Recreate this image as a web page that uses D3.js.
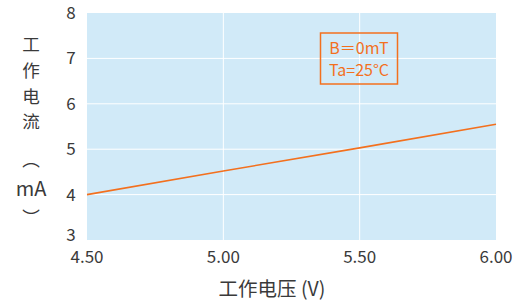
<!DOCTYPE html>
<html>
<head>
<meta charset="utf-8">
<script src="https://cdn.jsdelivr.net/npm/d3@7"></script>
<style>
  body { margin: 0; background: #fff; }
  text { font-family: "Noto Sans CJK SC", "Noto Sans", sans-serif; fill: #3a3a3a; }
</style>
</head>
<body>
<div id="chart"></div>
<script>
// data
var voltage = [4.5, 5.0, 5.5, 6.0];
var current = [4.0, 4.52, 5.03, 5.55];
var xTicks = [4.5, 5.0, 5.5, 6.0];
var yTicks = [3, 4, 5, 6, 7, 8];
var yLabelChars = ["工", "作", "电", "流", "︵", "mA", "︶"];
var legendLines = ["B＝0mT", "Ta=25°C"];

var width = 526, height = 301;
var margin = {top: 13, right: 30, bottom: 61, left: 87};

var svg = d3.select("#chart").append("svg")
    .attr("width", width)
    .attr("height", height);

var x = d3.scaleLinear().domain([4.5, 6.0]).range([margin.left, width - margin.right]);
var y = d3.scaleLinear().domain([3, 8]).range([height - margin.bottom, margin.top]);

// plot background
svg.append("rect")
    .attr("x", x(4.5)).attr("y", y(8))
    .attr("width", x(6.0) - x(4.5))
    .attr("height", y(3) - y(8))
    .attr("fill", "#d1eaf8");

// grid
svg.selectAll(".hgrid").data(yTicks.slice(1, -1)).enter().append("line")
    .attr("x1", x(4.5)).attr("x2", x(6.0))
    .attr("y1", function(d) { return y(d); })
    .attr("y2", function(d) { return y(d); })
    .attr("stroke", "#fff").attr("stroke-width", 1);

svg.selectAll(".vgrid").data(xTicks.slice(1, -1)).enter().append("line")
    .attr("y1", y(8)).attr("y2", y(3))
    .attr("x1", function(d) { return x(d); })
    .attr("x2", function(d) { return x(d); })
    .attr("stroke", "#fff").attr("stroke-width", 1);

// tick labels
svg.selectAll(".ylab").data(yTicks).enter().append("text")
    .attr("x", 71)
    .attr("y", function(d) { return d == 3 ? y(d) - 5 : y(d); })
    .attr("dy", "0.35em")
    .attr("text-anchor", "middle")
    .style("font-size", "17px")
    .text(function(d) { return d; });

svg.selectAll(".xlab").data(xTicks).enter().append("text")
    .attr("x", function(d) { return x(d); })
    .attr("y", 257)
    .attr("dy", "0.35em")
    .attr("text-anchor", "middle")
    .style("font-size", "17px")
    .text(function(d) { return d3.format(".2f")(d); });

// axis titles
svg.append("text")
    .attr("x", 272).attr("y", 289)
    .attr("dy", "0.35em")
    .attr("text-anchor", "middle")
    .style("font-size", "19.5px")
    .text("工作电压 (V)");

// y title, stacked one char per row
svg.selectAll(".ytitle").data(yLabelChars).enter().append("text")
    .attr("x", 31)
    .attr("y", function(d, i) { return i < 4 ? 45 + i * 25.7 : 160 + (i - 4) * 29; })
    .attr("dy", "0.36em")
    .attr("text-anchor", "middle")
    .style("font-size", function(d) { return d == "mA" ? "20px" : "17.6px"; })
    .text(function(d) { return d; });

// line
var line = d3.line()
    .x(function(d, i) { return x(voltage[i]); })
    .y(function(d) { return y(d); });

svg.append("path")
    .datum(current)
    .attr("d", line)
    .attr("fill", "none")
    .attr("stroke", "#f3701e")
    .attr("stroke-width", 1.6);

// legend box
svg.append("rect")
    .attr("x", 320.5).attr("y", 33)
    .attr("width", 77).attr("height", 51)
    .attr("fill", "none")
    .attr("stroke", "#f3701e")
    .attr("stroke-width", 1.5);

svg.selectAll(".leg").data(legendLines).enter().append("text")
    .attr("x", 359)
    .attr("y", function(d, i) { return 48 + i * 22; })
    .attr("dy", "0.35em")
    .attr("text-anchor", "middle")
    .style("font-size", "16px")
    .style("fill", "#f3701e")
    .text(function(d) { return d; });
</script>
</body>
</html>
